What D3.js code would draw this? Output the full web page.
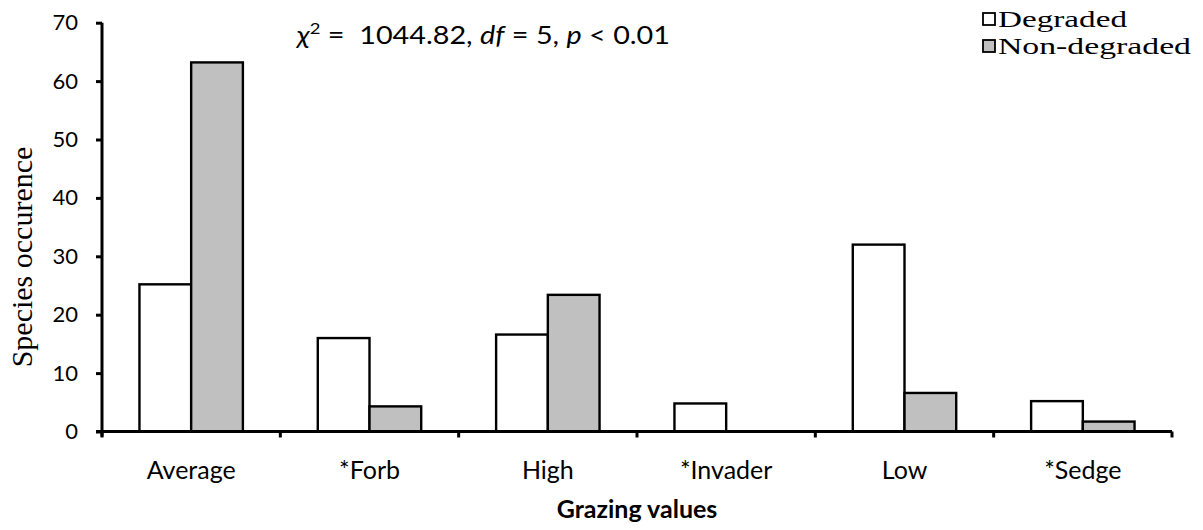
<!DOCTYPE html>
<html>
<head>
<meta charset="utf-8">
<script src="https://cdn.jsdelivr.net/npm/d3@7"></script>
<style>
  body { margin: 0; background: #fff; }
  text { fill: #000; }
</style>
</head>
<body>
<svg id="chart" width="1203" height="530"></svg>
<script>
// Species occurrence by grazing value class
const categories = ["Average", "*Forb", "High", "*Invader", "Low", "*Sedge"];
const seriesNames = ["Degraded", "Non-degraded"];
const degraded = [25.2, 16.0, 16.6, 4.8, 32.0, 5.2];
const nonDegraded = [63.2, 4.3, 23.4, 0, 6.6, 1.7];
const yTicks = [0, 10, 20, 30, 40, 50, 60, 70];
const seriesFills = ["#ffffff", "#c0c0c0"];

const sans = "Lato, 'Open Sans', sans-serif";
const serif = "'Liberation Serif', 'DejaVu Serif', serif";

const svg = d3.select("#chart");
const plot = { left: 102, right: 1172, top: 22.7, bottom: 431.5 };

const x = d3.scaleBand().domain(categories).range([plot.left, plot.right]).padding(0);
const xs = d3.scaleBand().domain(seriesNames)
  .range([0.21 * x.bandwidth(), 0.79 * x.bandwidth()]).padding(0);
const y = d3.scaleLinear().domain([0, 70]).range([plot.bottom, plot.top]);
const color = d3.scaleOrdinal().domain(seriesNames).range(seriesFills);

const rows = categories.map((c, i) => ({
  category: c,
  values: [
    { series: seriesNames[0], value: degraded[i] },
    { series: seriesNames[1], value: nonDegraded[i] }
  ]
}));

// bars
const groups = svg.append("g").selectAll("g")
  .data(rows).join("g")
  .attr("transform", d => `translate(${x(d.category)},0)`);

groups.selectAll("rect")
  .data(d => d.values).join("rect")
  .attr("x", d => xs(d.series))
  .attr("y", d => y(d.value))
  .attr("width", xs.bandwidth())
  .attr("height", d => y(0) - y(d.value))
  .attr("fill", d => color(d.series))
  .attr("stroke", "#000")
  .attr("stroke-width", 2.4);

// y axis
const yAxis = svg.append("g")
  .attr("transform", `translate(${plot.left},0)`)
  .call(d3.axisLeft(y).tickValues(yTicks).tickSize(6).tickSizeOuter(0).tickPadding(18));
yAxis.select(".domain").attr("stroke-width", 3).attr("d", `M0,${plot.top}V${plot.bottom + 5}`);
yAxis.selectAll(".tick line").attr("stroke-width", 3);
yAxis.selectAll(".tick text")
  .attr("font-family", sans).attr("font-size", 22);

// x axis: line, boundary ticks and category labels
const xAxis = svg.append("g")
  .attr("transform", `translate(0,${plot.bottom})`)
  .call(d3.axisBottom(x).tickSize(0).tickPadding(30));
xAxis.select(".domain").attr("stroke-width", 3)
  .attr("d", `M${plot.left - 6},0H${plot.right}`);
xAxis.selectAll(".tick text")
  .attr("font-family", sans).attr("font-size", 25);

const boundaries = categories.map(c => x(c)).concat([x(categories[categories.length - 1]) + x.bandwidth()]);
xAxis.append("g").selectAll("line")
  .data(boundaries).join("line")
  .attr("x1", d => d).attr("x2", d => d)
  .attr("y1", 0).attr("y2", 6)
  .attr("stroke", "#000").attr("stroke-width", 3);

// axis titles
svg.append("text")
  .attr("x", (plot.left + plot.right) / 2)
  .attr("y", 518)
  .attr("text-anchor", "middle")
  .attr("font-family", sans).attr("font-weight", "bold").attr("font-size", 25)
  .text("Grazing values");

svg.append("text")
  .attr("transform", `translate(32,257) rotate(-90)`)
  .attr("text-anchor", "middle")
  .attr("font-family", serif).attr("font-size", 30)
  .text("Species occurence");

// test statistic
const stat = svg.append("text")
  .attr("x", 297).attr("y", 44)
  .attr("font-family", sans).attr("font-size", 25)
  .attr("textLength", 373).attr("lengthAdjust", "spacingAndGlyphs");
stat.append("tspan").attr("font-style", "italic").text("χ");
stat.append("tspan").attr("font-size", 16).attr("dy", -10).text("2");
stat.append("tspan").attr("dy", 10).text(" =\u00a0\u00a01044.82, ");
stat.append("tspan").attr("font-style", "italic").text("df");
stat.append("tspan").text(" = 5, ");
stat.append("tspan").attr("font-style", "italic").text("p");
stat.append("tspan").text(" < 0.01");

// legend
const legendWidths = [129, 193];
const legend = svg.append("g").selectAll("g")
  .data(seriesNames).join("g")
  .attr("transform", (d, i) => `translate(983,${13 + i * 27})`);
legend.append("rect")
  .attr("width", 12).attr("height", 12)
  .attr("fill", d => color(d))
  .attr("stroke", "#000").attr("stroke-width", 1.8);
legend.append("text")
  .attr("x", 15).attr("y", 14)
  .attr("font-family", serif).attr("font-size", 23)
  .attr("textLength", (d, i) => legendWidths[i]).attr("lengthAdjust", "spacingAndGlyphs")
  .text(d => d);
</script>
</body>
</html>
